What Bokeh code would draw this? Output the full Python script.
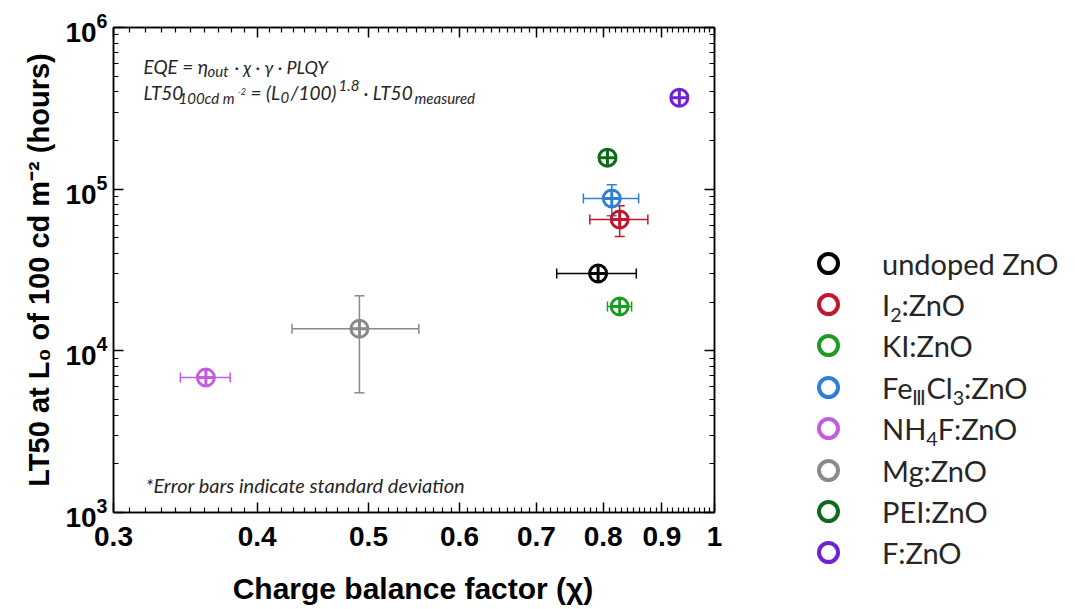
import numpy as np
from bokeh.plotting import figure
from bokeh.layouts import row, column
from bokeh.models import (Range1d, FixedTicker, LogAxis, Label, Div,
                          Whisker, TeeHead, ColumnDataSource, CustomJSTickFormatter)
from bokeh.embed import file_html
from bokeh.resources import INLINE

# ---------------- data ----------------
series = ["undoped ZnO", "I<sub>2</sub>:ZnO", "KI:ZnO", "Fe<sub>Ⅲ</sub>Cl<sub>3</sub>:ZnO",
          "NH<sub>4</sub>F:ZnO", "Mg:ZnO", "PEI:ZnO", "F:ZnO"]
colors = ["#000000", "#C3162B", "#1E9B24", "#2F7FD4", "#C45BE3", "#8A8A8A", "#0F6B1A", "#6E22D4"]
chi = [0.792, 0.827, 0.827, 0.814, 0.361, 0.491, 0.807, 0.932]
chi_err = [0.063, 0.048, 0.020, 0.045, 0.018, 0.062, 0.0, 0.0]
lt50 = [30100, 64900, 18800, 87500, 6840, 13700, 156700, 368000]
lt50_err = [0, 14000, 0, 19000, 0, 8200, 0, 0]

x_ticks = [0.3, 0.4, 0.5, 0.6, 0.7, 0.8, 0.9, 1.0]
x_tick_labels = ["0.3", "0.4", "0.5", "0.6", "0.7", "0.8", "0.9", "1"]
y_ticks = [1e3, 1e4, 1e5, 1e6]
x_title = "Charge balance factor (χ)"
y_title = "LT50 at L₀ of 100 cd m⁻² (hours)"

x_minor = [round(v, 2) for v in np.arange(0.31, 1.0, 0.01) if round(v, 2) not in x_ticks]
y_minor = [m * 10 ** e for e in (3, 4, 5) for m in range(2, 10)]

SANS = "Liberation Sans"
NOTE = "Lato"
TXT = "#262626"

p = figure(width=800, height=570, title=None,
           x_axis_type="log", y_axis_type="log",
           x_range=Range1d(0.3, 1.0), y_range=Range1d(1e3, 1e6),
           output_backend="svg", toolbar_location=None,
           min_border_left=113, min_border_right=86,
           min_border_top=27, min_border_bottom=58)
p.grid.visible = False
p.outline_line_color = "black"
p.outline_line_width = 1.5
p.background_fill_color = "white"
p.border_fill_color = "white"


def style_axis(ax):
    ax.major_tick_in = 10
    ax.major_tick_out = 0
    ax.minor_tick_in = 5
    ax.minor_tick_out = 0
    ax.axis_line_color = "black"
    ax.axis_line_width = 1.5
    ax.major_tick_line_color = "black"
    ax.major_tick_line_width = 1.5
    ax.minor_tick_line_color = "black"
    ax.minor_tick_line_width = 1.2


xb = p.below[0]
yl = p.left[0]
xb.ticker = FixedTicker(ticks=x_ticks, minor_ticks=x_minor)
xb.formatter = CustomJSTickFormatter(args=dict(xt=x_ticks, xl=x_tick_labels), code="""
const i = xt.findIndex(t => Math.abs(t - tick) < 1e-9);
return i >= 0 ? xl[i] : '';
""")
yl.ticker = FixedTicker(ticks=y_ticks, minor_ticks=y_minor)
for ax in (xb, yl):
    style_axis(ax)
    ax.major_label_text_font = SANS
    ax.major_label_text_font_style = "bold"
    ax.major_label_text_font_size = "28px"
    ax.major_label_text_color = "black"
xb.major_label_standoff = 14
yl.major_label_standoff = 6
yl.axis_label = y_title
yl.axis_label_text_font = SANS
yl.axis_label_text_font_style = "bold"
yl.axis_label_text_color = "black"
yl.axis_label_text_font_size = "29px"
yl.axis_label_standoff = 7

top = LogAxis(ticker=FixedTicker(ticks=x_ticks, minor_ticks=x_minor),
              formatter=CustomJSTickFormatter(code="return '';"))
right = LogAxis(ticker=FixedTicker(ticks=y_ticks, minor_ticks=y_minor),
                formatter=CustomJSTickFormatter(code="return '';"))
for ax in (top, right):
    style_axis(ax)
    ax.major_label_text_font_size = "1px"
    ax.major_label_standoff = 0
p.add_layout(top, "above")
p.add_layout(right, "right")

# ---------------- error bars ----------------
for xi, yi, xe, ye, c in zip(chi, lt50, chi_err, lt50_err, colors):
    if xe > 0:
        s = ColumnDataSource(dict(base=[yi], lower=[xi - xe], upper=[xi + xe]))
        p.add_layout(Whisker(source=s, base="base", lower="lower", upper="upper",
                             dimension="width", line_color=c, line_width=1.5,
                             upper_head=TeeHead(size=10, line_color=c, line_width=1.5),
                             lower_head=TeeHead(size=10, line_color=c, line_width=1.5)))
    if ye > 0:
        s = ColumnDataSource(dict(base=[xi], lower=[yi - ye], upper=[yi + ye]))
        p.add_layout(Whisker(source=s, base="base", lower="lower", upper="upper",
                             dimension="height", line_color=c, line_width=1.5,
                             upper_head=TeeHead(size=10, line_color=c, line_width=1.5),
                             lower_head=TeeHead(size=10, line_color=c, line_width=1.5)))

# ---------------- markers ----------------
src = ColumnDataSource(dict(x=chi, y=lt50, color=colors))
p.scatter("x", "y", source=src, marker="circle_cross", size=17,
          line_color="color", line_width=3, fill_color=None)


# ---------------- texts inside the frame ----------------
def lab(x, y, text, size, font=NOTE, style="italic", color=TXT):
    p.add_layout(Label(x=x, y=y, x_units="screen", y_units="screen", text=text,
                       text_font=font, text_font_style=style, text_font_size=f"{size}px",
                       text_align="left", text_baseline="alphabetic", text_color=color))


for t, x, y, s in [("EQE = η", 30, 446, 19), ("out", 94, 442, 15),
                   ("· χ · γ · PLQY", 121, 446, 18)]:
    lab(x, y, t, s)
for t, x, y, s in [("LT50", 30, 420, 19), ("100cd m", 65, 415, 15), ("-2", 124, 421, 9),
                   ("= (L", 137, 420, 19), ("0", 167, 415, 15), ("/100)", 177, 420, 19),
                   ("1.8", 225, 427, 15), ("· LT50", 250, 420, 19), ("measured", 301, 415, 15)]:
    lab(x, y, t, s)

lab(32, 28, "*Error bars indicate standard deviation", 20)

# ---------------- x axis title (strip under the plot) ----------------
title_div = Div(text=(
    '<div style="position:relative;width:800px;height:39px;">'
    '<span style="position:absolute;left:413px;top:3.5px;transform:translateX(-50%);'
    'white-space:nowrap;font-family:\'Liberation Sans\',sans-serif;font-weight:bold;'
    f'font-size:30px;line-height:1;color:black;">{x_title}</span></div>'),
    width=800, height=39, margin=0)

# ---------------- legend (panel to the right of the plot) ----------------
rows_html = []
for i, (name, c) in enumerate(zip(series, colors)):
    top_px = 242.5 + i * 41.4
    name_html = name.replace("<sub>", '<sub style="font-size:0.68em;vertical-align:-0.28em;line-height:0;">')
    rows_html.append(
        f'<div style="position:absolute;left:0;top:{top_px:.1f}px;height:41px;display:flex;'
        f'align-items:center;white-space:nowrap;">'
        f'<span style="display:inline-block;box-sizing:border-box;width:23px;height:23px;'
        f'margin-left:16.5px;border:4.5px solid {c};border-radius:50%;"></span>'
        f'<span style="margin-left:42.5px;">{name_html}</span></div>')
legend_html = (f'<div style="position:relative;width:275px;height:609px;font-family:Lato,sans-serif;'
               f'font-size:29px;color:{TXT};line-height:1;">' + "".join(rows_html) + '</div>')
legend_div = Div(text=legend_html, width=275, height=609, margin=0)

layout = row(column(p, title_div), legend_div)
open("out.html", "w").write(file_html(layout, INLINE))
